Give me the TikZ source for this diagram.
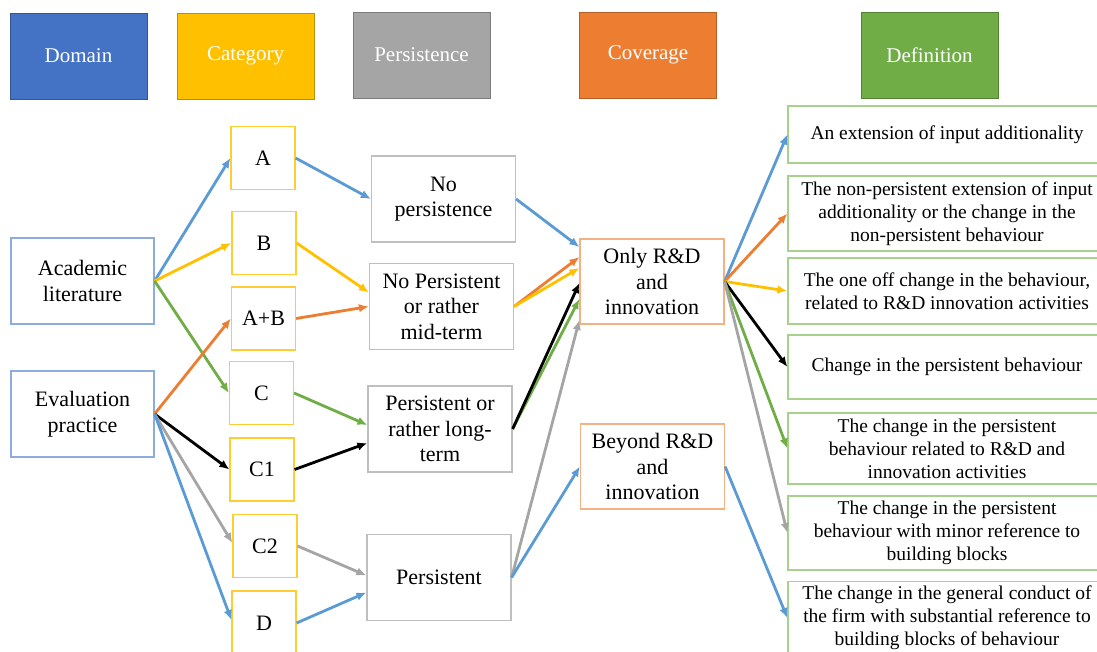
\documentclass[tikz,border=0pt]{standalone}
\usepackage{fontspec}
\setmainfont{Liberation Serif}
\newfontfamily\tnr{Liberation Serif}
\usetikzlibrary{arrows.meta,calc}
% header fills
\definecolor{hdblue}{HTML}{4472C4}
\definecolor{hdyellow}{HTML}{FFC000}
\definecolor{hdgray}{HTML}{A5A5A5}
\definecolor{hdorange}{HTML}{ED7D31}
\definecolor{hdgreen}{HTML}{70AD47}
% connector colours
\definecolor{ablue}{HTML}{5B9BD5}
\definecolor{aorange}{HTML}{ED7D31}
\definecolor{ayellow}{HTML}{FFC000}
\definecolor{agreen}{HTML}{70AD47}
\definecolor{agray}{HTML}{A5A5A5}
% box outlines
\definecolor{domline}{HTML}{8FAADC}
\definecolor{catline}{HTML}{FFCC33}
\definecolor{perline}{HTML}{BFBFBF}
\definecolor{covline}{HTML}{F4B183}
\definecolor{dfnline}{HTML}{A9D18E}
\begin{document}
\begin{tikzpicture}[x=1pt,y=-1pt,
  hdr/.style={draw=#1!75!black, fill=#1, line width=0.8pt, text=white,
    minimum width=137pt, minimum height=86pt, inner sep=0pt,
    font=\tnr\fontsize{21}{24}\selectfont},
  body/.style={font=\tnr\fontsize{22}{25.5}\selectfont, align=center,
    inner sep=0pt, line width=1.2pt},
  dom/.style={body, draw=domline, minimum width=143pt, minimum height=86pt},
  cat/.style={body, draw=catline, minimum width=64pt, minimum height=63pt},
  per/.style={body, draw=perline, minimum width=144pt, minimum height=86pt},
  cov/.style={body, draw=covline, minimum width=144pt, minimum height=85pt},
  dfn/.style={draw=dfnline, line width=1.2pt, minimum width=318pt,
    minimum height=#1, align=center, inner sep=0pt,
    font=\tnr\fontsize{19.5}{23}\selectfont},
  arr/.style={draw=#1, line width=2.8pt, -{Latex[length=10pt,width=8.5pt]}},
]
\useasboundingbox (0,0) rectangle (1097,652);
\clip (0,0) rectangle (1097,652);

% column headers
\node[hdr=hdblue]   (hdom) at (78.5,56)  {Domain};
\node[hdr=hdyellow] (hcat) at (245.5,56) {Category};
\node[hdr=hdgray]   (hper) at (421.5,55) {Persistence};
\node[hdr=hdorange] (hcov) at (648,55)   {Coverage};
\node[hdr=hdgreen]  (hdef) at (929.5,55) {Definition};

% domains
\node[dom] (acad) at (82.5,281) {Academic\\literature};
\node[dom] (eval) at (82.5,414) {Evaluation\\practice};

% categories
\node[cat] (A)  at (263,158)   {A};
\node[cat] (B)  at (264,243)   {B};
\node[cat] (AB) at (263.5,318.5) {A+B};
\node[cat] (C)  at (261.5,393) {C};
\node[cat] (C1) at (262,469.5) {C1};
\node[cat] (C2) at (265,546)   {C2};
\node[cat, minimum height=64pt] (D) at (264,623) {D};

% persistence
\node[per] (np)  at (443.5,199)   {No\\persistence};
\node[per] (npm) at (441.5,306.5) {No Persistent\\or rather\\mid-term};
\node[per] (pl)  at (440,429)     {Persistent or\\rather long-\\term};
\node[per] (ps)  at (439,577.5)   {Persistent};

% coverage
\node[cov] (only)   at (652,281.5)   {Only R\&D\\and\\innovation};
\node[cov] (beyond) at (652.5,466.5) {Beyond R\&D\\and\\innovation};

% definitions
\node[dfn=57pt] (d1) at (947,134.5) {An extension of input additionality};
\node[dfn=75pt] (d2) at (947,213.5) {The non-persistent extension of input\\additionality or the change in the\\non-persistent behaviour};
\node[dfn=66pt] (d3) at (947,291)   {The one off change in the behaviour,\\related to R\&D innovation activities};
\node[dfn=64pt] (d4) at (947,367)   {Change in the persistent behaviour};
\node[dfn=71pt] (d5) at (947,448.5) {The change in the persistent\\behaviour related to R\&D and\\innovation activities};
\node[dfn=74pt] (d6) at (947,533)   {The change in the persistent\\behaviour with minor reference to\\building blocks};
\node[dfn=73pt] (d7) at (947,618)   {The change in the general conduct of\\the firm with substantial reference to\\building blocks of behaviour};

% domain -> category
\draw[arr=ablue]   (acad.east) -- (A.west);
\draw[arr=ayellow] (acad.east) -- (B.west);
\draw[arr=agreen]  (acad.east) -- (C.west);
\draw[arr=aorange] (eval.east) -- (AB.west);
\draw[arr=black]   (eval.east) -- (C1.west);
\draw[arr=agray]   (eval.east) -- ($(C2.west)+(0,-3)$);
\draw[arr=ablue]   (eval.east) -- ($(D.west)+(0,-3)$);

% category -> persistence
\draw[arr=ablue]   (A.east)  -- (np.west);
\draw[arr=ayellow] (B.east)  -- ($(npm.west)+(0,-14)$);
\draw[arr=aorange] (AB.east) -- (npm.west);
\draw[arr=agreen]  (C.east)  -- ($(pl.west)+(0,-4)$);
\draw[arr=black]   (C1.east) -- ($(pl.west)+(0,14)$);
\draw[arr=agray]   (C2.east) -- ($(ps.west)+(0,-2)$);
\draw[arr=ablue]   (D.east)  -- ($(ps.west)+(0,15)$);

% persistence -> coverage
\draw[arr=ablue]   (np.east)  -- ($(only.west)+(0,-34.5)$);
\draw[arr=aorange] (npm.east) -- ($(only.west)+(0,-24.5)$);
\draw[arr=ayellow] (npm.east) -- ($(only.west)+(0,-13.5)$);
\draw[arr=agreen]  (pl.east)  -- ($(only.west)+(0,17.5)$);
\draw[arr=black]   (pl.east)  -- ($(only.west)+(0,1.5)$);
\draw[arr=agray]   (ps.east)  -- ($(only.west)+(0,38.5)$);
\draw[arr=ablue]   (ps.east)  -- (beyond.west);

% coverage -> definition
\draw[arr=ablue]   (only.east) -- (d1.west);
\draw[arr=aorange] (only.east) -- (d2.west);
\draw[arr=ayellow] (only.east) -- (d3.west);
\draw[arr=black]   (only.east) -- (d4.west);
\draw[arr=agreen]  (only.east) -- (d5.west);
\draw[arr=agray]   (only.east) -- (d6.west);
\draw[arr=ablue]   (beyond.east) -- (d7.west);
\end{tikzpicture}
\end{document}
